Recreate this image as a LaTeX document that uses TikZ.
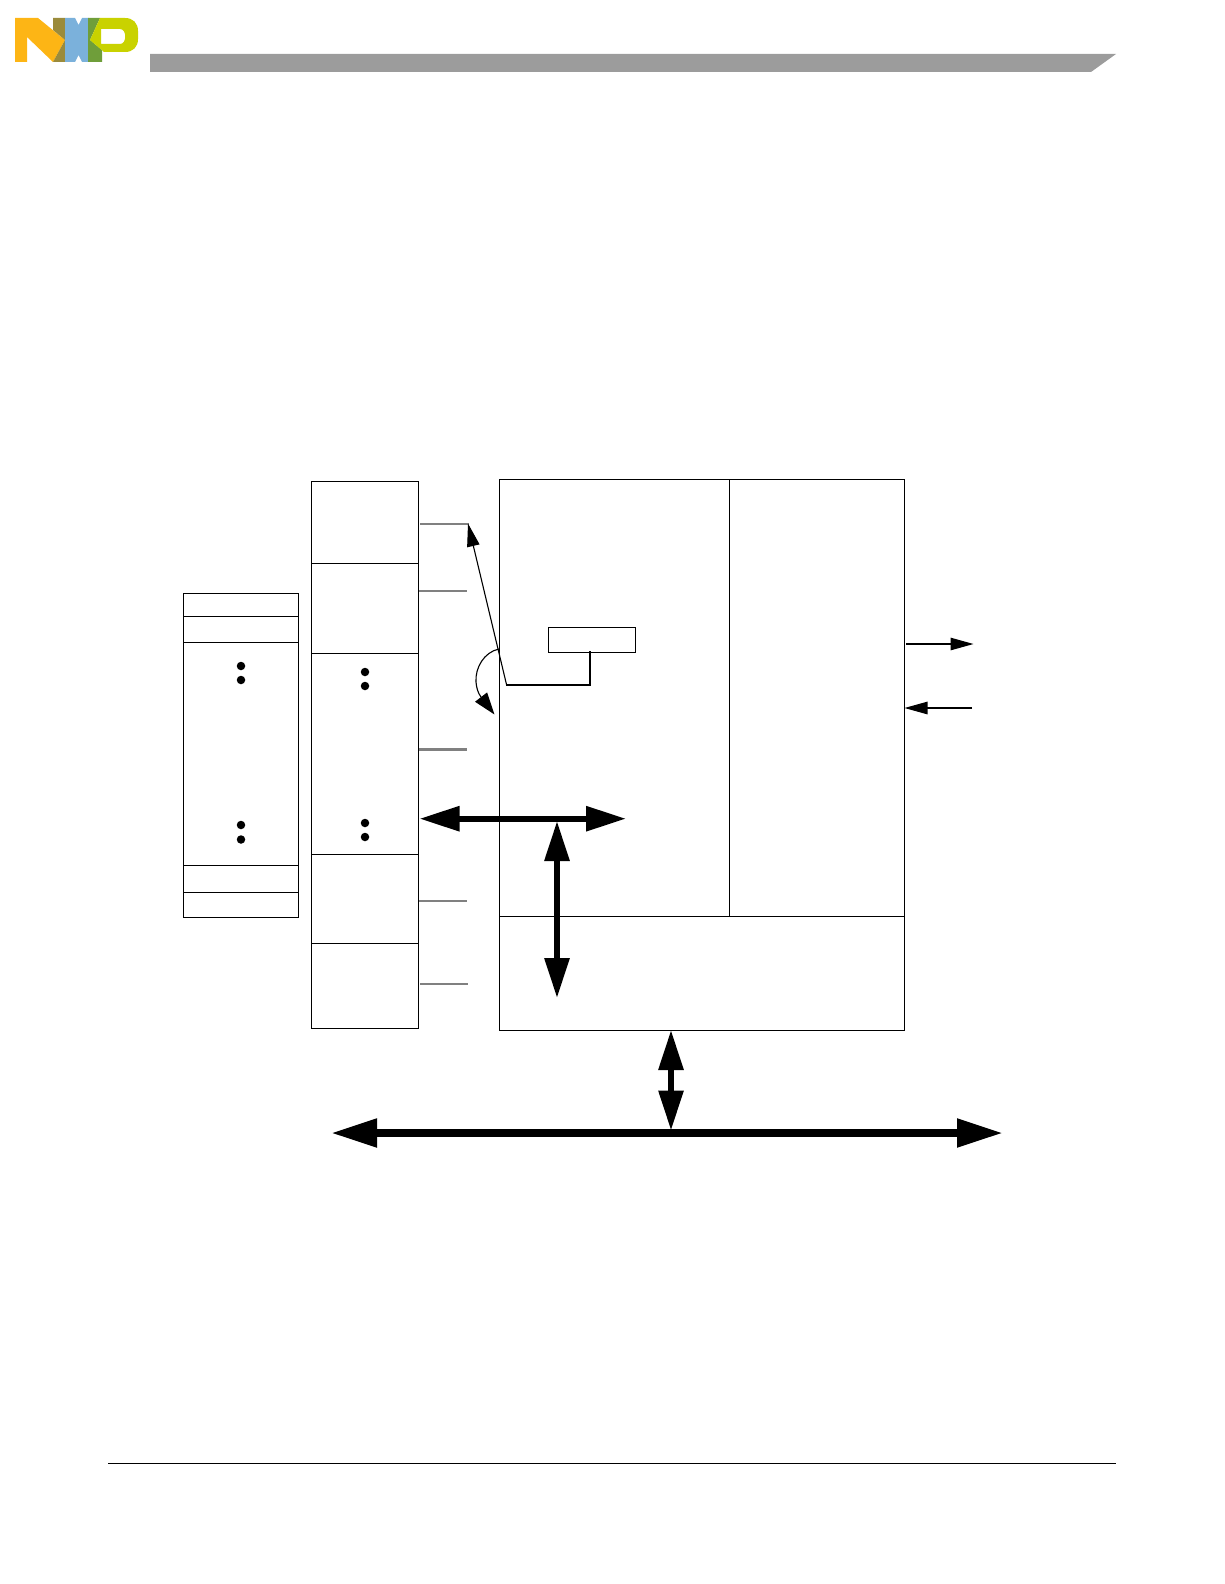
\documentclass[tikz,border=0pt]{standalone}
\usetikzlibrary{arrows.meta}
\definecolor{barg}{HTML}{9C9C9C}
\definecolor{linegrey}{HTML}{808080}
\definecolor{nxpy}{HTML}{FDB515}
\definecolor{nxpo}{HTML}{9B8B3B}
\definecolor{nxpb}{HTML}{7BB1DB}
\definecolor{nxpg}{HTML}{6F9E3A}
\definecolor{nxpl}{HTML}{C9D200}
\tikzset{
  x=1pt,y=-1pt,
  cell/.style={draw=black,line width=1pt,fill=none,anchor=north west,inner sep=0pt,outer sep=0pt,minimum width=#1},
  greyline/.style={draw=linegrey,line width=2.4pt},
  thinarrow/.style={draw=black,line width=1.1pt,-{Triangle[length=23pt,width=12.5pt]}},
  thickdouble/.style={draw=black,line width=6pt,{Triangle[length=40pt,width=24pt]}-{Triangle[length=40pt,width=24pt]}},
  busdouble/.style={draw=black,line width=8pt,{Triangle[length=46pt,width=27pt]}-{Triangle[length=46pt,width=27pt]}},
  dotmark/.style={circle,fill=black,inner sep=0pt,outer sep=0pt,minimum size=8.5pt}
}
\begin{document}
\begin{tikzpicture}
\useasboundingbox (0,0) rectangle (1224,1584);
% header
\fill[barg] (150,54) -- (1116,54) -- (1091,72) -- (150,72) -- cycle;
\draw[black,line width=1pt] (108,1463) -- (1116,1463);
% logo
\fill[nxpy] (15,18) -- (38,18) -- (65,40) -- (53,62) -- (27,37) -- (27,62) -- (15,62) -- cycle;
\fill[nxpo] (53,18) -- (65,18) -- (65,40) -- (53,30) -- cycle;
\fill[nxpo] (53,62) -- (65,40) -- (65,62) -- cycle;
\fill[nxpb] (65,18) -- (75,18) -- (78.5,25) -- (82,18) -- (88.5,18) -- (88.5,62) -- (82,62) -- (78.5,55) -- (75,62) -- (65,62) -- cycle;
\fill[nxpg] (88,18) -- (100,18) -- (90,40) -- (102,50) -- (102,62) -- (88,62) -- cycle;
\fill[nxpl,even odd rule] (100,18) -- (125,18) .. controls (133,18) and (138,23) .. (138,31) -- (138,39) .. controls (138,47) and (133,52) .. (125,52) -- (104,52) -- (90,40) -- cycle
 (101,29) -- (101,44) -- (120,44) .. controls (127,44) and (127,29) .. (120,29) -- cycle;
% left table
\node[cell=115pt,minimum height=23pt] (la) at (183.5,593.5) {};
\node[cell=115pt,minimum height=26pt] (lb) at (183.5,616.5) {};
\node[cell=115pt,minimum height=223pt] (lc) at (183.5,642.5) {};
\node[cell=115pt,minimum height=27pt] (ld) at (183.5,865.5) {};
\node[cell=115pt,minimum height=25pt] (le) at (183.5,892.5) {};
% middle table
\node[cell=107pt,minimum height=81.5pt] (ma) at (311.5,481.5) {};
\node[cell=107pt,minimum height=90pt] (mb) at (311.5,563) {};
\node[cell=107pt,minimum height=201pt] (mc) at (311.5,653) {};
\node[cell=107pt,minimum height=89pt] (md) at (311.5,854) {};
\node[cell=107pt,minimum height=85pt] (me) at (311.5,943) {};
% main block
\node[cell=230pt,minimum height=437pt] (core) at (499.5,479.5) {};
\node[cell=174.5pt,minimum height=437pt] (ctrl) at (729.5,479.5) {};
\node[cell=404.5pt,minimum height=114pt] (bus) at (499.5,916.5) {};
\node[cell=87.5pt,minimum height=25pt] (reg) at (548.3,627.3) {};
% dots
\node[dotmark] (d1) at (241,666) {};
\node[dotmark] (d2) at (241,680) {};
\node[dotmark] (d3) at (241,825) {};
\node[dotmark] (d4) at (241,839.5) {};
\node[dotmark] (d5) at (365,672) {};
\node[dotmark] (d6) at (365,686) {};
\node[dotmark] (d7) at (365,823) {};
\node[dotmark] (d8) at (365,837) {};
% coordinates
\coordinate (g1a) at (420,524); \coordinate (g1b) at (468.5,524);
\coordinate (g2a) at (419,591); \coordinate (g2b) at (467,591);
\coordinate (g3a) at (419,749.5); \coordinate (g3b) at (466.5,749.5);
\coordinate (g4a) at (419,901); \coordinate (g4b) at (467,901);
\coordinate (g5a) at (420,984); \coordinate (g5b) at (468,984);
\coordinate (ptr) at (590,652);
\coordinate (ptrc) at (590,684.5);
\coordinate (ptrl) at (506.5,684.5);
\coordinate (ptrt) at (468,523.5);
\coordinate (arcs) at (499,649);
\coordinate (arcm) at (481,697);
\coordinate (arce) at (494.5,714.5);
\coordinate (ha) at (419.5,818.7); \coordinate (hb) at (626,818.7);
\coordinate (va) at (557,821); \coordinate (vb) at (557,998);
\coordinate (ba) at (331,1133); \coordinate (bb) at (1003,1133);
\coordinate (bva) at (671,1030); \coordinate (bvb) at (671,1130.5);
\coordinate (r1a) at (906,644); \coordinate (r1b) at (973.5,644);
\coordinate (r2a) at (972,708); \coordinate (r2b) at (904.5,708);
% grey lines
\draw[greyline] (g1a) -- (g1b);
\draw[greyline] (g2a) -- (g2b);
\draw[greyline] (g3a) -- (g3b);
\draw[greyline] (g4a) -- (g4b);
\draw[greyline] (g5a) -- (g5b);
% pointer
\draw[black,line width=2pt,line cap=rect] (ptr) -- (ptrc) -- (ptrl);
\draw[thinarrow] (ptrl) -- (ptrt);
\draw[black,line width=1.1pt,-{Triangle[length=22pt,width=15pt]}] (arcs) .. controls (484,652) and (475,668) .. (476,682) .. controls (476.5,688) and (478,693) .. (arcm) -- (arce);
% thick arrows
\draw[thickdouble] (ha) -- (hb);
\draw[thickdouble] (va) -- (vb);
\draw[busdouble] (ba) -- (bb);
\draw[thickdouble] (bva) -- (bvb);
\draw[thinarrow] (r1a) -- (r1b);
\draw[thinarrow] (r2a) -- (r2b);
\end{tikzpicture}
\end{document}
